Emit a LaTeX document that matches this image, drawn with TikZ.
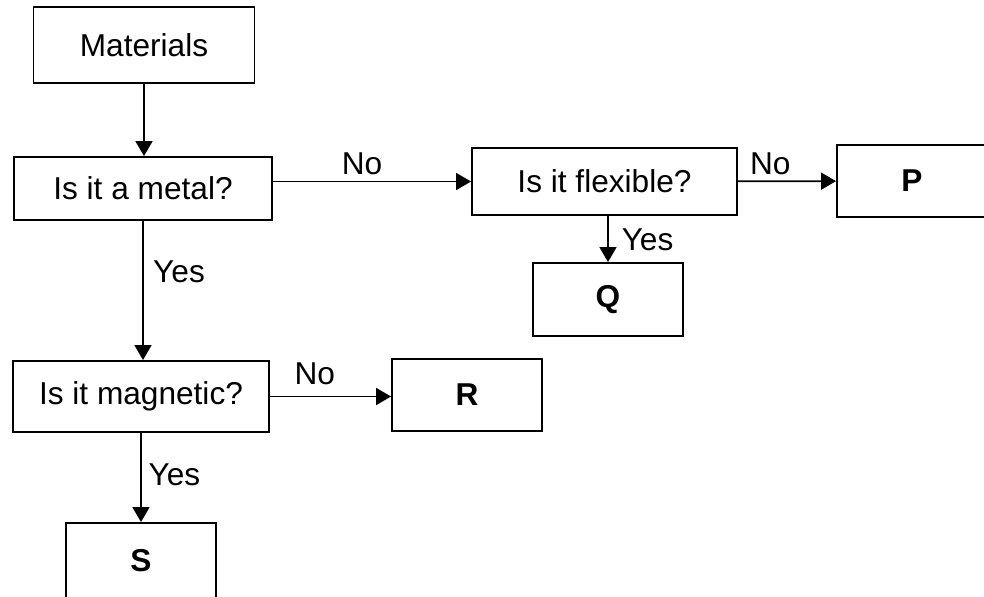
\documentclass[tikz,border=0pt]{standalone}
\usepackage{fontspec}
\setmainfont{Liberation Sans}
\usetikzlibrary{arrows.meta}
\begin{document}
\begin{tikzpicture}[x=0.02cm, y=-0.02cm, line width=1pt,
        >={Triangle[length=0.3cm, width=0.34cm]},
        every node/.style={font=\fontsize{18}{21}\selectfont},
        box/.style={draw, line width=1.1pt, inner sep=0pt},
        leaf/.style={box, font=\fontsize{18}{21}\selectfont\bfseries, minimum width=3cm}]
        \useasboundingbox (0,0) rectangle (984,596);
        \clip (0,0) rectangle (984,596);

        \node[box, minimum width=4.42cm, minimum height=1.52cm] (mat) at (144, 45) {Materials};
        \node[box, minimum width=5.16cm, minimum height=1.26cm] (is_metal) at (143, 188.5) {Is it a metal?};
        \node[box, minimum width=5.3cm, minimum height=1.34cm] (is_flex) at (604.5, 181.5) {Is it flexible?};
        \node[leaf, minimum height=1.44cm] (out_p) at (912, 181) {P};
        \node[leaf, minimum height=1.46cm] (out_q) at (608, 299.5) {Q};
        \node[box, minimum width=5.12cm, minimum height=1.42cm] (is_magn) at (141, 396.5) {Is it magnetic?};
        \node[leaf, minimum height=1.44cm] (out_r) at (467, 395) {R};
        \node[leaf, minimum height=1.5cm] (out_s) at (141, 560.5) {S};

        \draw[->] (mat) -- (mat |- is_metal.north);
        \draw[->] (is_metal.east |- is_flex) -- node[pos=0.45, above] (no_a) {No} (is_flex.west);
        \draw[->] (is_flex) -- node[pos=0.33, above] (no_b) {No} (out_p);
        \draw[->] (is_flex.south -| out_q) -- node[pos=0.52, right, xshift=4pt] (yes_a) {Yes} (out_q);
        \draw[->] (is_metal) -- node[pos=0.365, right, xshift=2pt] (yes_b) {Yes} (is_metal |- is_magn.north);
        \draw[->] (is_magn.east) -- node[pos=0.37, above, yshift=3pt] (no_c) {No} (is_magn.east -| out_r.west);
        \draw[->] (is_magn) -- node[pos=0.47, right, xshift=0.5pt] (yes_c) {Yes} (out_s);
    \end{tikzpicture}
\end{document}
